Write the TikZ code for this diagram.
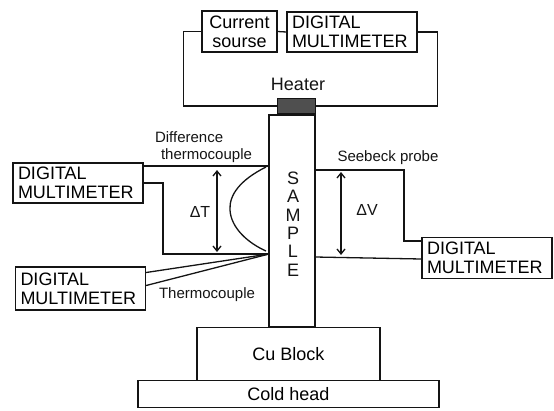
\documentclass[tikz,border=0pt]{standalone}
\usepackage{fontspec}
\setmainfont{Liberation Sans}
\usetikzlibrary{arrows.meta, positioning, calc}
\definecolor{ink}{RGB}{20, 20, 20}

\begin{document}
\begin{tikzpicture}[
        x=1pt, y=-1pt,
        box/.style={rectangle, draw=ink, line width=1.3pt, inner sep=0pt, font=\fontsize{18}{19}\selectfont},
        meter/.style={box, minimum width=130pt, minimum height=40pt, text width=120pt, align=left},
        lbl/.style={inner sep=0pt, text=ink, align=center, font=\fontsize{15}{17}\selectfont},
        wire/.style={draw=ink, line width=1.3pt},
        span/.style={{Straight Barb[length=5pt,width=8pt]}-{Straight Barb[length=5pt,width=8pt]}, draw=ink, line width=1.3pt}
        ]
        \useasboundingbox (0,0) rectangle (554,410);

        % top row
        \node[box, minimum width=75pt, minimum height=41pt, align=center] (source) at (239.5,31.5) {Current\\sourse};
        \node[meter] (topmeter) at (352,32) {DIGITAL\\MULTIMETER};
        \node[draw=ink, fill=ink!75, inner sep=0pt, minimum width=38pt, minimum height=15pt] (heater) at (296,106) {};
        \node[lbl, font=\fontsize{18}{19}\selectfont, above=7pt of heater, xshift=2pt] (heatertxt) {Heater};

        % sample and blocks
        \node[box, minimum width=46pt, minimum height=212pt] (sample) at (292,221) {};
        \node[lbl, font=\fontsize{18}{18.4}\selectfont] (sampletxt) at (293,224) {S\\A\\M\\P\\L\\E};
        \node[box, minimum width=183pt, minimum height=53pt] (block) at (288.5,354) {Cu Block};
        \node[box, minimum width=301pt, minimum height=27pt] (head) at (288.5,394) {Cold head};

        % side meters
        \node[meter] (leftmeter) at (78,183) {DIGITAL\\MULTIMETER};
        \node[meter, minimum height=43pt] (lowmeter) at (80.5,288.5) {DIGITAL\\MULTIMETER};
        \node[meter, minimum height=41pt] (rightmeter) at (487,258) {DIGITAL\\MULTIMETER};

        % contact points on the sample
        \coordinate (difftop) at (269,166);
        \coordinate (diffbot) at (269,254);
        \coordinate (probetop) at (315,170);
        \coordinate (probebot) at (315,257);

        % labels
        \node[lbl, align=left] (difftxt) at (203.5,147) {Difference\\\hspace*{6pt}thermocouple};
        \node[lbl] (couple) at (207,295) {Thermocouple};
        \node[lbl] (probe) at (388,158) {Seebeck probe};
        \node[lbl, font=\fontsize{16}{18}\selectfont] (dT) at (200,212) {ΔT};
        \node[lbl, font=\fontsize{16}{18}\selectfont] (dV) at (367,210) {ΔV};

        % heater circuit
        \draw[wire] (source.east) -- (topmeter.west);
        \draw[wire] (source.west) -- ++(-18,0) |- (heater.west);
        \draw[wire] (topmeter.east) -- ++(20,0) |- (heater.east);

        % difference thermocouple
        \draw[wire] (leftmeter.east |- difftop) -- (difftop);
        \draw[wire] (leftmeter.east) -- (163,183) |- (diffbot);
        \draw[span] (217,170) -- (217,252);
        \draw[wire] (266,167) .. controls (240,180) and (229,195) .. (230,210)
            .. controls (231,228) and (248,243) .. (266,251);

        % thermocouple
        \draw[wire] ($(lowmeter.east)+(0,-16)$) -- (diffbot);
        \draw[wire] ($(lowmeter.east)+(0,-3)$) -- (diffbot);

        % seebeck probe
        \draw[wire] (probetop) -- (404,170) |- ($(rightmeter.west)+(0,-17)$);
        \draw[wire] (probebot) -- ($(rightmeter.west)+(0,1)$);
        \draw[span] (341,172) -- (341,255);
    \end{tikzpicture}
\end{document}
